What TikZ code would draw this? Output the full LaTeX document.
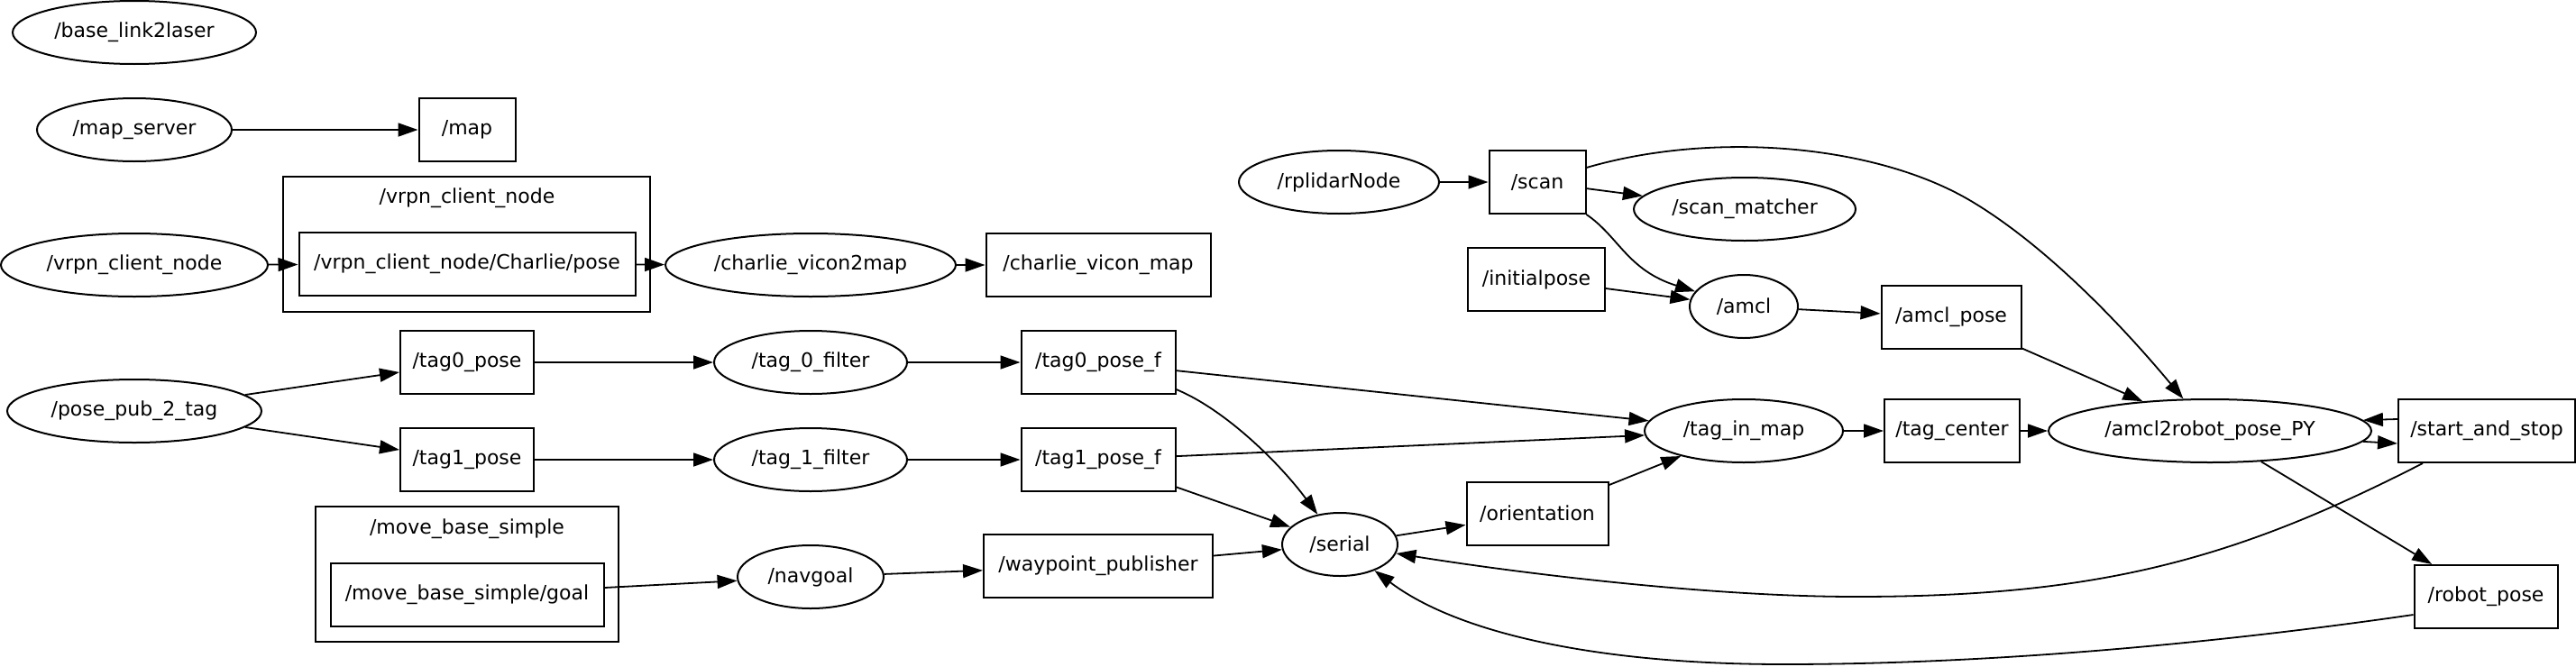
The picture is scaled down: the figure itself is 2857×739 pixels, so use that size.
\documentclass[tikz,border=0pt]{standalone}
\usepackage{fontspec}
\setmainfont{DejaVu Sans}
\usetikzlibrary{shapes.geometric,arrows.meta}
\tikzset{
  base/.style={draw, line width=1pt, inner sep=0pt, minimum height=35pt, font=\fontsize{11pt}{13pt}\selectfont},
  ell/.style={base, ellipse},
  box/.style={base, rectangle},
  cluster/.style={draw, line width=1pt, inner sep=0pt, minimum height=75pt},
  lbl/.style={inner sep=0pt, font=\fontsize{11pt}{13pt}\selectfont},
  conn/.style={line width=0.9pt, -{Triangle[length=11pt,width=7.5pt]}},
}
\begin{document}
\begin{tikzpicture}[x=0.5pt,y=-0.5pt]
\useasboundingbox (0,0) rectangle (2857,739);
% clusters
\node[cluster, minimum width=203.5pt] (clvrpn) at (517.5,271) {};
\node[lbl] (lblvrpn) at (518,220) {/vrpn\_client\_node};
\node[cluster, minimum width=168pt] (clmove) at (518,637) {};
\node[lbl] (lblmove) at (518,587) {/move\_base\_simple};
% ellipses
\node[ell, minimum width=135pt] (base) at (149,36) {/base\_link2laser};
\node[ell, minimum width=108pt] (mapserver) at (149,144) {/map\_server};
\node[ell, minimum width=148pt] (vrpnnode) at (149,294) {/vrpn\_client\_node};
\node[ell, minimum width=141pt] (posepub) at (149,456) {/pose\_pub\_2\_tag};
\node[ell, minimum width=161pt] (vicon2map) at (899,294) {/charlie\_vicon2map};
\node[ell, minimum width=107pt] (filter0) at (899,402) {/tag\_0\_filter};
\node[ell, minimum width=107pt] (filter1) at (899,510) {/tag\_1\_filter};
\node[ell, minimum width=81pt] (navgoal) at (899,640) {/navgoal};
\node[ell, minimum width=111pt] (rplidar) at (1485,202) {/rplidarNode};
\node[ell, minimum width=123pt] (scanmatcher) at (1935,232) {/scan\_matcher};
\node[ell, minimum width=60pt] (amcl) at (1934,340) {/amcl};
\node[ell, minimum width=110pt] (taginmap) at (1934,478) {/tag\_in\_map};
\node[ell, minimum width=64pt] (serial) at (1486,604) {/serial};
\node[ell, minimum width=179pt] (amcl2robot) at (2451,478) {/amcl2robot\_pose\_PY};
% boxes
\node[box, minimum width=53.5pt] (map) at (518,144) {/map};
\node[box, minimum width=186.5pt] (charliepose) at (518,293) {/vrpn\_client\_node/Charlie/pose};
\node[box, minimum width=74pt] (tag0pose) at (518,402) {/tag0\_pose};
\node[box, minimum width=74pt] (tag1pose) at (518,510) {/tag1\_pose};
\node[box, minimum width=151.5pt] (goal) at (518,660) {/move\_base\_simple/goal};
\node[box, minimum width=124.5pt] (viconmap) at (1218,294) {/charlie\_vicon\_map};
\node[box, minimum width=85.5pt] (tag0f) at (1218,402) {/tag0\_pose\_f};
\node[box, minimum width=85.5pt] (tag1f) at (1218,510) {/tag1\_pose\_f};
\node[box, minimum width=127pt] (waypoint) at (1218,628) {/waypoint\_publisher};
\node[box, minimum width=53.5pt] (scan) at (1705,202) {/scan};
\node[box, minimum width=76pt] (initialpose) at (1704,310) {/initialpose};
\node[box, minimum width=78.5pt] (orientation) at (1705,570) {/orientation};
\node[box, minimum width=77.5pt] (amclpose) at (2164,352) {/amcl\_pose};
\node[box, minimum width=75pt] (tagcenter) at (2165,478) {/tag\_center};
\node[box, minimum width=98pt] (startstop) at (2758,478) {/start\_and\_stop};
\node[box, minimum width=79.5pt] (robotpose) at (2757,662) {/robot\_pose};
% edges
\draw[conn] (mapserver) -- (map);
\draw[conn] (vrpnnode) -- (charliepose);
\draw[conn] (charliepose) -- (vicon2map);
\draw[conn] (vicon2map) -- (viconmap);
\draw[conn] (posepub) -- (tag0pose);
\draw[conn] (posepub) -- (tag1pose);
\draw[conn] (tag0pose) -- (filter0);
\draw[conn] (filter0) -- (tag0f);
\draw[conn] (tag1pose) -- (filter1);
\draw[conn] (filter1) -- (tag1f);
\draw[conn] (tag0f) -- (taginmap);
\draw[conn] (tag1f) -- (taginmap);
\draw[conn] ([yshift=-15pt]tag0f.east) .. controls (1360,455) and (1420,515) .. (serial);
\draw[conn] (tag1f) -- (serial);
\draw[conn] (goal) -- (navgoal);
\draw[conn] (navgoal) -- (waypoint);
\draw[conn] (waypoint) -- (serial);
\draw[conn] (serial) -- (orientation);
\draw[conn] (orientation) -- (taginmap);
\draw[conn] (taginmap) -- (tagcenter);
\draw[conn] (tagcenter) -- (amcl2robot);
\draw[conn] (rplidar) -- (scan);
\draw[conn] (scan) -- (scanmatcher);
\draw[conn] (scan.south east) .. controls (1795,262) and (1805,300) .. (amcl);
\draw[conn] ([yshift=8pt]scan.east) .. controls (1900,145) and (2080,160) .. (2186,223)
  .. controls (2260,267) and (2340,345) .. (amcl2robot);
\draw[conn] (initialpose) -- (amcl);
\draw[conn] (amcl) -- (amclpose);
\draw[conn] (amclpose) -- (amcl2robot);
\draw[conn] ([yshift=6.5pt]startstop.west) -- (amcl2robot.4.5);
\draw[conn] (amcl2robot.-4.5) -- ([yshift=-7pt]startstop.west);
\draw[conn] (amcl2robot) -- (robotpose);
\draw[conn] ([xshift=14pt]startstop.south west) .. controls (2480,620) and (2330,662) .. (2058,662)
  .. controls (1900,662) and (1692,637) .. (serial);
\draw[conn] ([yshift=-10pt]robotpose.west) .. controls (2450,715) and (2200,737) .. (1978,737)
  .. controls (1780,737) and (1620,705) .. (serial);
\end{tikzpicture}
\end{document}
